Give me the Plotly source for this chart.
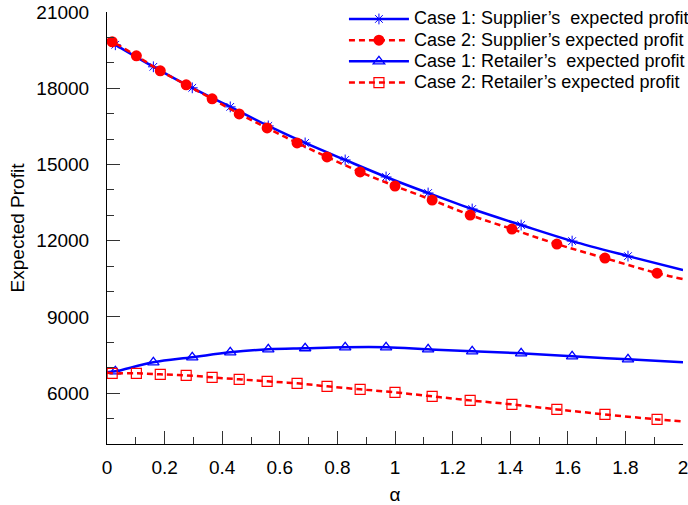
import plotly.graph_objects as go

# marker positions (alpha) for Case 1 series and Case 2 series
alpha_c1 = [0.029, 0.161, 0.296, 0.428, 0.560, 0.688, 0.827, 0.969, 1.115, 1.268, 1.438, 1.615, 1.809]
alpha_c2 = [0.018, 0.102, 0.185, 0.275, 0.365, 0.459, 0.556, 0.660, 0.764, 0.879, 1.000, 1.129, 1.261, 1.406, 1.562, 1.729, 1.910]

sup_c1 = [19711, 18844, 18016, 17267, 16518, 15848, 15178, 14508, 13877, 13247, 12616, 11985, 11394]
sup_c2 = [19829, 19277, 18686, 18134, 17582, 16991, 16439, 15848, 15296, 14705, 14153, 13601, 13010, 12458, 11867, 11315, 10724]
ret_c1 = [6860, 7215, 7412, 7609, 7727, 7767, 7806, 7806, 7727, 7648, 7570, 7451, 7333]
ret_c2 = [6781, 6781, 6742, 6702, 6623, 6545, 6466, 6387, 6269, 6151, 6032, 5875, 5717, 5559, 5362, 5165, 4968]

# curve end values at alpha = 0 and alpha = 2
alpha_ends = [0.0, 2.0]
sup_c1_ends = [19908, 10841]
sup_c2_ends = [19908, 10488]
ret_c1_ends = [6820, 7215]
ret_c2_ends = [6800, 4889]

names = ["Case 1: Supplier\u2019s \u00a0expected profit",
         "Case 2: Supplier\u2019s expected profit",
         "Case 1: Retailer\u2019s \u00a0expected profit",
         "Case 2: Retailer\u2019s expected profit"]

y_ticks = [6000, 9000, 12000, 15000, 18000, 21000]
y_ticklabels = ["6000", "9000", "12000", "15000", "18000", "21000"]
x_ticks = [0, 0.2, 0.4, 0.6, 0.8, 1, 1.2, 1.4, 1.6, 1.8, 2]
x_ticklabels = ["0", "0.2", "0.4", "0.6", "0.8", "1", "1.2", "1.4", "1.6", "1.8", "2"]

BLUE = "#0000ff"
RED = "#ff0000"

series = [
    (alpha_c1, sup_c1, sup_c1_ends, BLUE, "solid", dict(symbol="asterisk-open", size=9, color=BLUE, line=dict(color=BLUE, width=1))),
    (alpha_c2, sup_c2, sup_c2_ends, RED, "6px,4px", dict(symbol="circle", size=11, color=RED, line=dict(width=0))),
    (alpha_c1, ret_c1, ret_c1_ends, BLUE, "solid", dict(symbol="triangle-up-open", size=10, color=BLUE, line=dict(color=BLUE, width=1.3))),
    (alpha_c2, ret_c2, ret_c2_ends, RED, "6px,4px", dict(symbol="square-open", size=10, color=RED, line=dict(color=RED, width=1.2))),
]

fig = go.Figure()
for (xs, ys, ends, col, dash, mk), nm in zip(series, names):
    lx = [alpha_ends[0]] + xs + [alpha_ends[1]]
    ly = [ends[0]] + ys + [ends[1]]
    fig.add_trace(go.Scatter(x=lx, y=ly, mode="lines", line=dict(color=col, width=2.5, dash=dash, shape="spline"),
                             showlegend=False, hoverinfo="skip"))
    fig.add_trace(go.Scatter(x=xs, y=ys, mode="markers", marker=mk, showlegend=False))
    fig.add_trace(go.Scatter(x=[None], y=[None], mode="lines+markers",
                             name='<span style="font-size:18px">' + nm + '</span>',
                             line=dict(color=col, width=2.5, dash=dash), marker=mk))

fig.update_layout(
    width=688, height=505,
    margin=dict(l=107, r=5, t=12, b=61, autoexpand=False),
    paper_bgcolor="white", plot_bgcolor="white",
    font=dict(family="Liberation Sans, Arial, sans-serif", size=19, color="black"),
    showlegend=True,
    legend=dict(x=1.019, xanchor="right", y=1.02, yanchor="top", bgcolor="rgba(0,0,0,0)",
                font=dict(size=14), itemwidth=60),
    xaxis=dict(range=[0, 2], tickvals=x_ticks, ticktext=x_ticklabels, ticks="inside", ticklen=13,
               tickwidth=1, tickcolor="#333", showline=True, linecolor="black", linewidth=1,
               showgrid=False, zeroline=False, ticklabelstandoff=6, automargin=False,
               ticklabeloverflow="allow",
               minor=dict(dtick=0.1, ticks="inside", ticklen=7, tickcolor="#333", tickwidth=1, showgrid=False),
               title=dict(text="\u03b1", font=dict(size=19), standoff=10)),
    yaxis=dict(range=[4000, 21000], tickvals=y_ticks, ticktext=y_ticklabels, ticks="inside", ticklen=13,
               tickwidth=1, tickcolor="#333", showline=True, linecolor="black", linewidth=1,
               showgrid=False, zeroline=False, ticklabelstandoff=13, automargin=False,
               ticklabeloverflow="allow",
               minor=dict(dtick=1000, tick0=0, ticks="inside", ticklen=7, tickcolor="#333", tickwidth=1, showgrid=False),
               title=dict(text="Expected Profit", font=dict(size=19), standoff=6)),
)

fig.write_html("out.html")
